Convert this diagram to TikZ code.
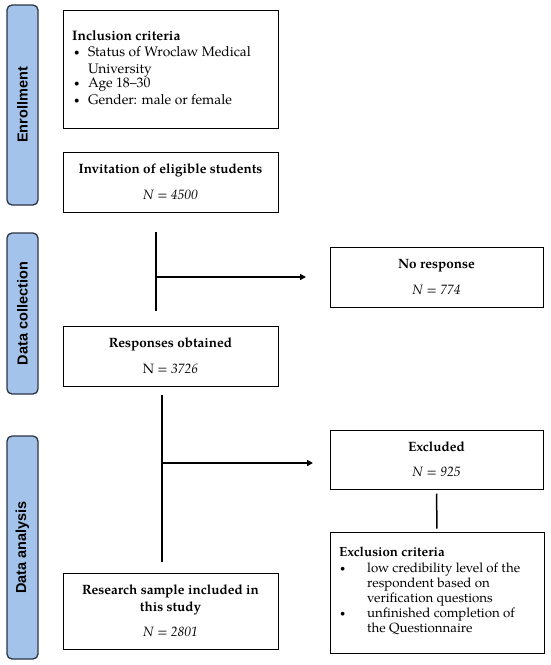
\documentclass[tikz,border=0pt]{standalone}
\usepackage{fontspec}
\newfontfamily\barfont{Liberation Sans}
\setmainfont{TeX Gyre Pagella}
\usetikzlibrary{arrows.meta,calc}
\definecolor{barfill}{HTML}{A4C3EA}
\definecolor{barline}{HTML}{2B3445}
\newcommand{\smbul}{\raisebox{1pt}{\scalebox{0.7}{\textbullet}}}
\begin{document}
\begin{tikzpicture}[x=1pt,y=-1pt,
  bar/.style={draw=barline,fill=barfill,line width=1.3pt,rounded corners=5pt},
  bartext/.style={rotate=90,font=\barfont\bfseries\fontsize{14.5}{16}\selectfont,text=black},
  box/.style={draw=black,line width=1pt,inner sep=0pt,font=\fontsize{13.5}{17}\selectfont},
  listtext/.style={align=left,anchor=north west,inner sep=0pt},
  link/.style={line width=1.5pt},
  arr/.style={line width=1.5pt,-{Triangle[length=6pt,width=6pt]}}]
\useasboundingbox (0,0) rectangle (550,665);
% side bars
\node[bar,minimum width=31pt,minimum height=200pt,inner sep=0pt] (benr) at (22.5,105) {};
\node[bartext] at (benr.center) {Enrollment};
\node[bar,minimum width=31pt,minimum height=161pt,inner sep=0pt] (bcol) at (22.5,313.5) {};
\node[bartext] at (bcol.center) {Data collection};
\node[bar,minimum width=31pt,minimum height=223pt,inner sep=0pt] (bana) at (22.5,547.5) {};
\node[bartext] at (bana.center) {Data analysis};
% boxes
\node[box,minimum width=215pt,minimum height=118pt] (incl) at (170.5,69) {};
\node[listtext,font=\fontsize{13.8}{16.5}\selectfont] (incltxt) at (72,30)
 {\textbf{Inclusion criteria}\\
  \makebox[16pt][l]{\hspace{2pt}\smbul}\parbox[t]{185pt}{Status of Wroclaw Medical\\University}\\
  \makebox[16pt][l]{\hspace{2pt}\smbul}Age 18--30\\
  \makebox[16pt][l]{\hspace{2pt}\smbul}Gender: male or female};
\node[box,minimum width=215pt,minimum height=60pt,align=center] (inv) at (170.5,182)
 {\textbf{Invitation of eligible students}\\[9pt]\textit{N} = \textit{4500}};
\node[box,minimum width=213pt,minimum height=60pt,align=center] (nores) at (436.5,277)
 {\textbf{No response}\\[9pt]\textit{N} = \textit{774}};
\node[box,minimum width=215pt,minimum height=60pt,align=center] (resp) at (170.5,356)
 {\textbf{Responses obtained}\\[9pt]N = \textit{3726}};
\node[box,minimum width=213pt,minimum height=59pt,align=center] (excl) at (436.5,459.5)
 {\textbf{Excluded}\\[8pt]\textit{N} = \textit{925}};
\node[box,minimum width=214pt,minimum height=121pt] (crit) at (437,592.5) {};
\node[listtext,font=\fontsize{13.3}{15.4}\selectfont] (crittxt) at (339,547)
 {\textbf{Exclusion criteria}\\
  \makebox[28pt][l]{\hspace{1pt}\smbul}\parbox[t]{170pt}{low credibility level of the\\respondent based on\\verification questions}\\
  \makebox[28pt][l]{\hspace{1pt}\smbul}\parbox[t]{170pt}{unfinished completion of\\the Questionnaire}};
\node[box,minimum width=215pt,minimum height=76pt,align=center] (samp) at (170.5,611)
 {\textbf{Research sample included in}\\\textbf{this study}\\[8pt]\textit{N} = \textit{2801}};
% connectors
\coordinate (v1a) at (156,232);
\coordinate (v1b) at (156,311);
\coordinate (v1m) at (156,277);
\coordinate (t1) at (306,277);
\draw[link] (v1a) -- (v1b);
\draw[arr] (v1m) -- (t1);
\coordinate (v2a) at (162,395);
\coordinate (v2b) at (162,562);
\coordinate (v2m) at (162,463);
\coordinate (t2) at (313,463);
\draw[link] (v2a) -- (v2b);
\draw[arr] (v2m) -- (t2);
\draw[link,shorten <=4pt,shorten >=3pt] (excl.south) -- (crit.north);
\end{tikzpicture}
\end{document}
